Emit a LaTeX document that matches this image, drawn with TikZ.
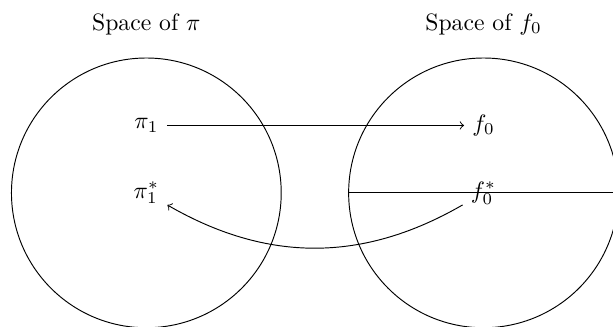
\documentclass[tikz,border=0pt]{standalone}
\begin{document}
\begin{tikzpicture}
        \useasboundingbox (-2.17,-1.98) rectangle (6.92,2.86);
        % Coordinates
        \coordinate (P) at (0,0);
        \coordinate (F) at (5,0);
        \coordinate (W) at (3,0);
        \coordinate (E) at (7,0);

        % Labels
        \node (titleP) at (0,2.5) {Space of $\pi$};
        \node (titleF) at (5,2.5) {Space of $f_0$};
        \node (pi1) at (0,1) {$\pi_1$};
        \node (pi1s) at (0,0) {$\pi_1^*$};
        \node (f0) at (5,1) {$f_0$};
        \node (f0s) at (5,0) {$f_0^*$};

        % Drawing
        \draw (P) circle (2);
        \draw (F) circle (2);
        \draw (W) -- (E);
        \draw[->] (pi1) -- (f0);
        \draw[->] (f0s) to[bend left=30] (pi1s);
    \end{tikzpicture}
\end{document}
